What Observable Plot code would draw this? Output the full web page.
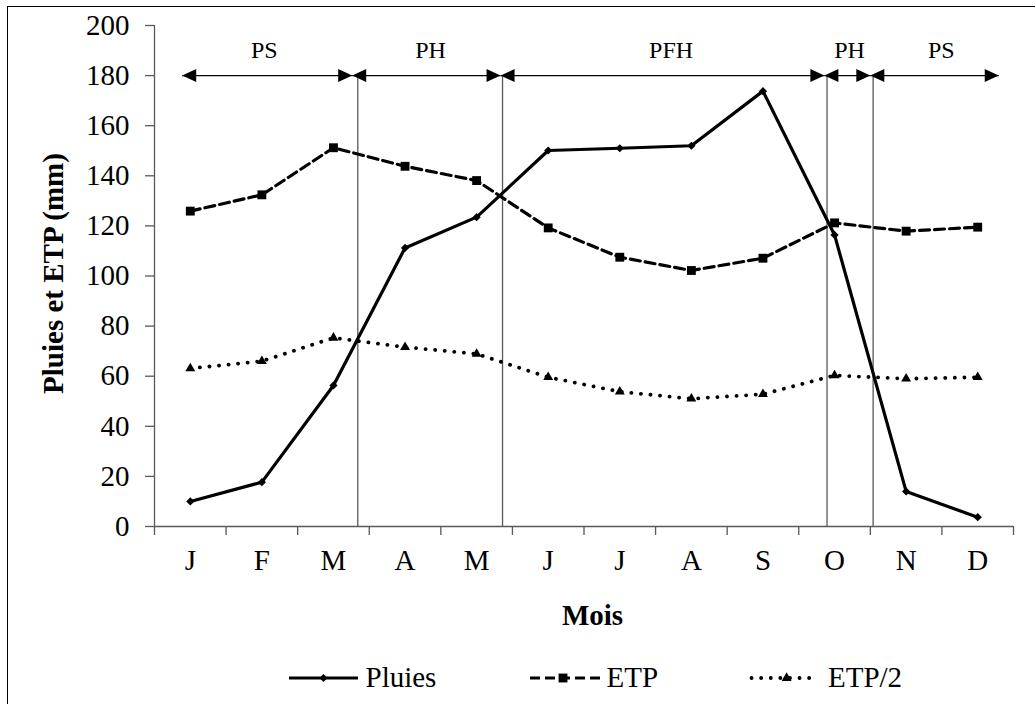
<!DOCTYPE html>
<html>
<head>
<meta charset="utf-8">
<script src="https://cdn.jsdelivr.net/npm/d3@7"></script>
<script src="https://cdn.jsdelivr.net/npm/@observablehq/plot@0.6"></script>
<style>
html, body { margin: 0; padding: 0; background: #fff; overflow: hidden; width: 1035px; height: 704px; }
#frame { position: absolute; left: 7px; top: 6px; width: 1100px; height: 800px; border-left: 1.5px solid #000; border-top: 1.5px solid #000; box-sizing: border-box; }
#chart { position: absolute; left: 0; top: 0; }
#legend { position: absolute; left: 0; top: 650px; }
svg text { font-family: "Liberation Serif", "Times New Roman", serif; }
</style>
</head>
<body>
<div id="frame"></div>
<div id="chart"></div>
<div id="legend"></div>
<script>
// ---- data ----
const months = ["J", "F", "M", "A", "M", "J", "J", "A", "S", "O", "N", "D"];
const pluies = [10, 17.7, 56.3, 111.2, 123.5, 150.1, 151, 152, 173.8, 116.4, 14, 3.7];
const etp    = [125.9, 132.4, 151.2, 143.8, 138.1, 119.2, 107.5, 102.2, 107.1, 121.2, 117.9, 119.5];
const etp2   = [63.1, 66, 75.3, 71.6, 68.9, 59.6, 53.8, 51, 52.8, 60.3, 59, 59.6];
const yTicks = [0, 20, 40, 60, 80, 100, 120, 140, 160, 180, 200];
const seriesNames = ["Pluies", "ETP", "ETP/2"];
const yTitle = "Pluies et ETP (mm)";
const xTitle = "Mois";

// periods (in month-index units, 0 = J)
const periodNames  = ["PS", "PH", "PFH", "PH", "PS"];
const periodStart  = [-0.113, 2.262, 4.334, 8.858, 9.5];
const periodEnd    = [2.262, 4.334, 8.858, 9.5, 11.294];
const periodLabelX = [1.033, 3.356, 6.717, 9.21, 10.492];
const periodLimits = [2.34, 4.362, 8.895, 9.539];
const periodLevel = 180;
const periodLabelLevel = 190;

// ---- build tables ----
const data = months.map((m, i) => ({i, month: m, pluies: pluies[i], etp: etp[i], etp2: etp2[i]}));
const periods = periodNames.map((name, k) => ({name, start: periodStart[k], end: periodEnd[k], lx: periodLabelX[k]}));

const FONT = "Liberation Serif";
const AXIS = "#595959";

const headRight = {draw(ctx) { ctx.moveTo(0, 0); ctx.lineTo(-14, -6.5); ctx.lineTo(-14, 6.5); ctx.closePath(); }};
const headLeft  = {draw(ctx) { ctx.moveTo(0, 0); ctx.lineTo(14, -6.5); ctx.lineTo(14, 6.5); ctx.closePath(); }};

const chart = Plot.plot({
  width: 1035,
  height: 650,
  marginLeft: 154,
  marginRight: 22,
  marginTop: 25,
  marginBottom: 124,
  style: {fontFamily: "'Liberation Serif', 'Times New Roman', serif", fontSize: "29px", color: "black", background: "transparent", overflow: "visible"},
  x: {type: "linear", domain: [-0.5, 11.5]},
  y: {domain: [0, 200]},
  marks: [
    // axes
    Plot.axisY({ticks: yTicks, tickSize: 9, tickPadding: 16, stroke: AXIS, strokeWidth: 1.3, fill: "black", fontSize: 29, fontFamily: FONT, label: null}),
    Plot.axisX({ticks: d3.range(-0.5, months.length, 1), tickSize: 9, tickFormat: () => "", stroke: AXIS, strokeWidth: 1.3, label: null}),
    Plot.axisX({ticks: d3.range(0, months.length), tickSize: 0, tickPadding: 23, tickFormat: i => months[i], fill: "black", fontSize: 29, fontFamily: FONT, label: null}),
    Plot.ruleY([0], {stroke: AXIS, strokeWidth: 1.3}),
    Plot.ruleX([-0.5], {y1: 0, y2: 200, stroke: AXIS, strokeWidth: 1.3}),
    // period limits and arrows
    Plot.ruleX(periodLimits, {y1: 0, y2: periodLevel, stroke: AXIS, strokeWidth: 1.3}),
    Plot.link(periods, {x1: "start", x2: "end", y1: periodLevel, y2: periodLevel, stroke: "black", strokeWidth: 1.3}),
    Plot.dot(periods, {x: "start", y: periodLevel, symbol: headLeft, fill: "black", stroke: "none"}),
    Plot.dot(periods, {x: "end", y: periodLevel, symbol: headRight, fill: "black", stroke: "none"}),
    Plot.text(periods, {x: "lx", y: periodLabelLevel, text: "name", fontSize: 24, fontFamily: FONT, fill: "black", textAnchor: "middle", lineAnchor: "middle"}),
    // series
    Plot.line(data, {x: "i", y: "etp2", stroke: "black", strokeWidth: 3.8, strokeDasharray: "0.1,9.5", strokeLinecap: "round"}),
    Plot.dot(data, {x: "i", y: "etp2", symbol: "triangle", r: 3.7, fill: "black", stroke: "none"}),
    Plot.line(data, {x: "i", y: "etp", stroke: "black", strokeWidth: 3.2, strokeDasharray: "10,5"}),
    Plot.dot(data, {x: "i", y: "etp", symbol: "square", r: 5, fill: "black", stroke: "none"}),
    Plot.line(data, {x: "i", y: "pluies", stroke: "black", strokeWidth: 3.2}),
    Plot.dot(data, {x: "i", y: "pluies", symbol: "diamond2", r: 3.7, fill: "black", stroke: "none"}),
    // axis titles
    Plot.text([yTitle], {text: d => d, frameAnchor: "left", rotate: -90, textAnchor: "middle", lineAnchor: "middle", dx: -100.3, dy: -2.5, fontWeight: "bold", fontSize: 29, fontFamily: FONT, fill: "black"}),
    Plot.text([xTitle], {text: d => d, frameAnchor: "bottom", textAnchor: "middle", lineAnchor: "middle", dx: 8.5, dy: 89.7, fontWeight: "bold", fontSize: 29, fontFamily: FONT, fill: "black"})
  ]
});
document.getElementById("chart").appendChild(chart);

// ---- legend ----
const legendSpecs = [
  {x0: 289, x1: 358, mx: 323.5, tx: 365.5, dash: null, width: 3.2, cap: "butt", symbol: d3.symbolDiamond2, size: Math.PI * 3.7 * 3.7},
  {x0: 530, x1: 600, mx: 563, tx: 606.5, dash: "10,5", width: 3.2, cap: "butt", symbol: d3.symbolSquare, size: Math.PI * 5 * 5},
  {x0: 751.5, x1: 812, mx: 786.6, tx: 828, dash: "0.1,9.5", width: 3.8, cap: "round", symbol: d3.symbolTriangle, size: Math.PI * 3.7 * 3.7}
];
const lsvg = d3.create("svg").attr("width", 1035).attr("height", 54);
legendSpecs.forEach((s, k) => {
  const g = lsvg.append("g");
  g.append("line").attr("x1", s.x0).attr("x2", s.x1).attr("y1", 28).attr("y2", 28)
    .attr("stroke", "black").attr("stroke-width", s.width)
    .attr("stroke-dasharray", s.dash).attr("stroke-linecap", s.cap);
  g.append("path").attr("d", d3.symbol(s.symbol, s.size)()).attr("transform", `translate(${s.mx},28)`).attr("fill", "black");
  g.append("text").attr("x", s.tx).attr("y", 37.3).attr("fill", "black")
    .attr("font-family", FONT).attr("font-size", 29).text(seriesNames[k]);
});
document.getElementById("legend").appendChild(lsvg.node());
</script>
</body>
</html>
